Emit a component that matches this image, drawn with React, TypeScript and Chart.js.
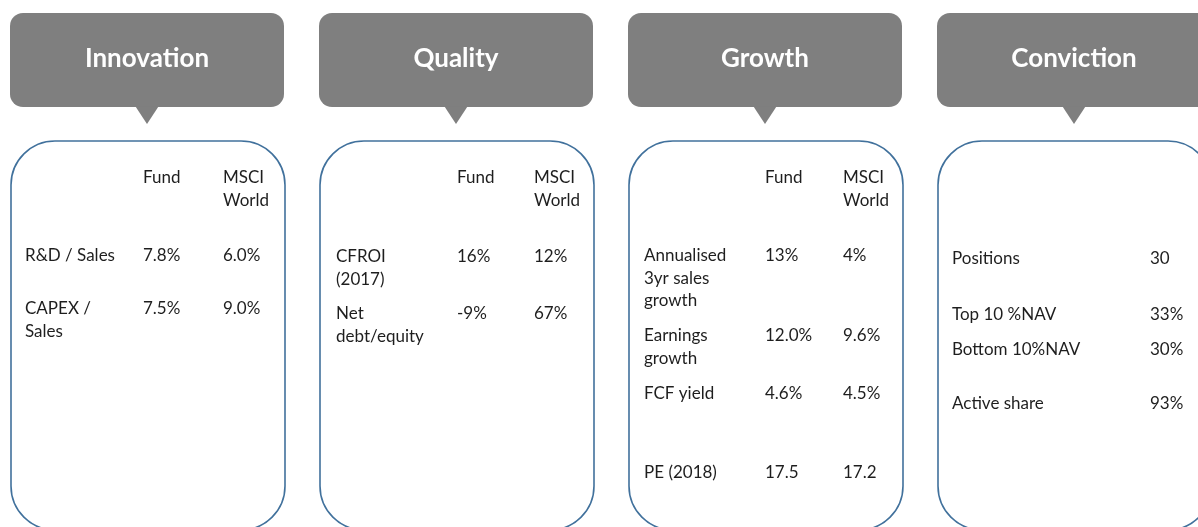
import React, { useEffect, useRef } from "react";
import { Chart, registerables } from "chart.js";

Chart.register(...registerables);

// ---------- DATA ----------
const panelTitles = ["Innovation", "Quality", "Growth", "Conviction"];
const columnHeaders: string[][] = [["Fund"], ["MSCI", "World"]];

const innovationMetrics: string[][] = [["R&D / Sales"], ["CAPEX /", "Sales"]];
const innovationFund = ["7.8%", "7.5%"];
const innovationMsci = ["6.0%", "9.0%"];

const qualityMetrics: string[][] = [["CFROI", "(2017)"], ["Net", "debt/equity"]];
const qualityFund = ["16%", "-9%"];
const qualityMsci = ["12%", "67%"];

const growthMetrics: string[][] = [
  ["Annualised", "3yr sales", "growth"],
  ["Earnings", "growth"],
  ["FCF yield"],
  ["PE (2018)"],
];
const growthFund = ["13%", "12.0%", "4.6%", "17.5"];
const growthMsci = ["4%", "9.6%", "4.5%", "17.2"];

const convictionMetrics: string[][] = [["Positions"], ["Top 10 %NAV"], ["Bottom 10%NAV"], ["Active share"]];
const convictionValues = ["30", "33%", "30%", "93%"];

// ---------- LAYOUT (positions / styles, kept apart from data) ----------
const W = 1198;
const H = 527;
const panelLeft = [10, 319, 628, 937];
const panelWidth = 274;
const headerTop = 13;
const headerBottom = 107;
const headerRadius = 13;
const pointerHalf = 11.5;
const pointerTip = 124;
const bodyTop = 141;
const bodyBottom = 530;
const bodyRadius = 44;
const lineHeight = 22.5;
const headerBaseline = 183;

const innovationRowY = [261, 314];
const qualityRowY = [262, 319];
const growthRowY = [261, 341, 399, 478];
const convictionRowY = [264, 320, 355, 409];

const colOffsets = [
  [15, 133, 213],
  [17, 138, 215],
  [16, 137, 215],
  [15, 213],
];

const headerFill = "#7f7f7f";
const bodyStroke = "#41719c";
const textColor = "#1e1e1e";
const bodyFont = "17px Lato, 'Noto Sans', sans-serif";
const titleFont = "bold 26px Lato, 'Noto Sans', sans-serif";

type Panel = {
  metrics: string[][];
  cols: string[][];
  rowY: number[];
  headers: boolean;
};

const panels: Panel[] = [
  { metrics: innovationMetrics, cols: [innovationFund, innovationMsci], rowY: innovationRowY, headers: true },
  { metrics: qualityMetrics, cols: [qualityFund, qualityMsci], rowY: qualityRowY, headers: true },
  { metrics: growthMetrics, cols: [growthFund, growthMsci], rowY: growthRowY, headers: true },
  { metrics: convictionMetrics, cols: [convictionValues], rowY: convictionRowY, headers: false },
];

function roundRect(ctx: CanvasRenderingContext2D, x: number, y: number, w: number, h: number, r: number) {
  ctx.beginPath();
  ctx.moveTo(x + r, y);
  ctx.lineTo(x + w - r, y);
  ctx.arcTo(x + w, y, x + w, y + r, r);
  ctx.lineTo(x + w, y + h - r);
  ctx.arcTo(x + w, y + h, x + w - r, y + h, r);
  ctx.lineTo(x + r, y + h);
  ctx.arcTo(x, y + h, x, y + h - r, r);
  ctx.lineTo(x, y + r);
  ctx.arcTo(x, y, x + r, y, r);
  ctx.closePath();
}

const infographicPlugin = {
  id: "infographic",
  afterDraw(chart: any) {
    const ctx: CanvasRenderingContext2D = chart.ctx;
    const xs = chart.scales.x;
    const ys = chart.scales.y;
    const px = (v: number) => xs.getPixelForValue(v);
    const py = (v: number) => ys.getPixelForValue(v);
    ctx.save();
    panelTitles.forEach((title, i) => {
      const left = panelLeft[i];
      const cx = left + panelWidth / 2;
      // header callout
      ctx.fillStyle = headerFill;
      roundRect(ctx, px(left), py(headerTop), px(left + panelWidth) - px(left), py(headerBottom) - py(headerTop), headerRadius);
      ctx.fill();
      ctx.beginPath();
      ctx.moveTo(px(cx - pointerHalf), py(headerBottom) - 0.5);
      ctx.lineTo(px(cx + pointerHalf), py(headerBottom) - 0.5);
      ctx.lineTo(px(cx), py(pointerTip));
      ctx.closePath();
      ctx.fill();
      ctx.fillStyle = "#ffffff";
      ctx.font = titleFont;
      ctx.textAlign = "center";
      ctx.textBaseline = "alphabetic";
      ctx.fillText(title, px(cx), py(67));

      // body box
      ctx.strokeStyle = bodyStroke;
      ctx.lineWidth = 1.6;
      roundRect(ctx, px(left + 1), py(bodyTop), px(left + 1 + panelWidth) - px(left + 1), py(bodyBottom) - py(bodyTop), bodyRadius);
      ctx.stroke();

      // table text
      const p = panels[i];
      const offs = colOffsets[i];
      ctx.fillStyle = textColor;
      ctx.font = bodyFont;
      ctx.textAlign = "left";
      if (p.headers) {
        columnHeaders.forEach((hdr, c) => {
          hdr.forEach((line, l) => {
            ctx.fillText(line, px(left + offs[c + 1]), py(headerBaseline + l * lineHeight));
          });
        });
      }
      p.metrics.forEach((lines, r) => {
        lines.forEach((line, l) => {
          ctx.fillText(line, px(left + offs[0]), py(p.rowY[r] + l * lineHeight));
        });
        p.cols.forEach((col, c) => {
          ctx.fillText(col[r], px(left + offs[c + 1]), py(p.rowY[r]));
        });
      });
    });
    ctx.restore();
  },
};

export default function App() {
  const ref = useRef<HTMLCanvasElement | null>(null);
  useEffect(() => {
    document.body.style.margin = "0";
    const canvas = ref.current!;
    const chart = new Chart(canvas, {
      type: "scatter",
      data: { datasets: [{ data: [], pointRadius: 0 }] },
      options: {
        animation: false,
        responsive: false,
        devicePixelRatio: 1,
        layout: { padding: 0 },
        plugins: { legend: { display: false }, tooltip: { enabled: false } },
        scales: {
          x: { type: "linear", min: 0, max: W, display: false },
          y: { type: "linear", min: 0, max: H, reverse: true, display: false },
        },
      },
      plugins: [infographicPlugin],
    });
    return () => chart.destroy();
  }, []);
  return (
    <div style={{ width: W, height: H, background: "#ffffff" }}>
      <canvas ref={ref} width={W} height={H} style={{ display: "block" }} />
    </div>
  );
}
